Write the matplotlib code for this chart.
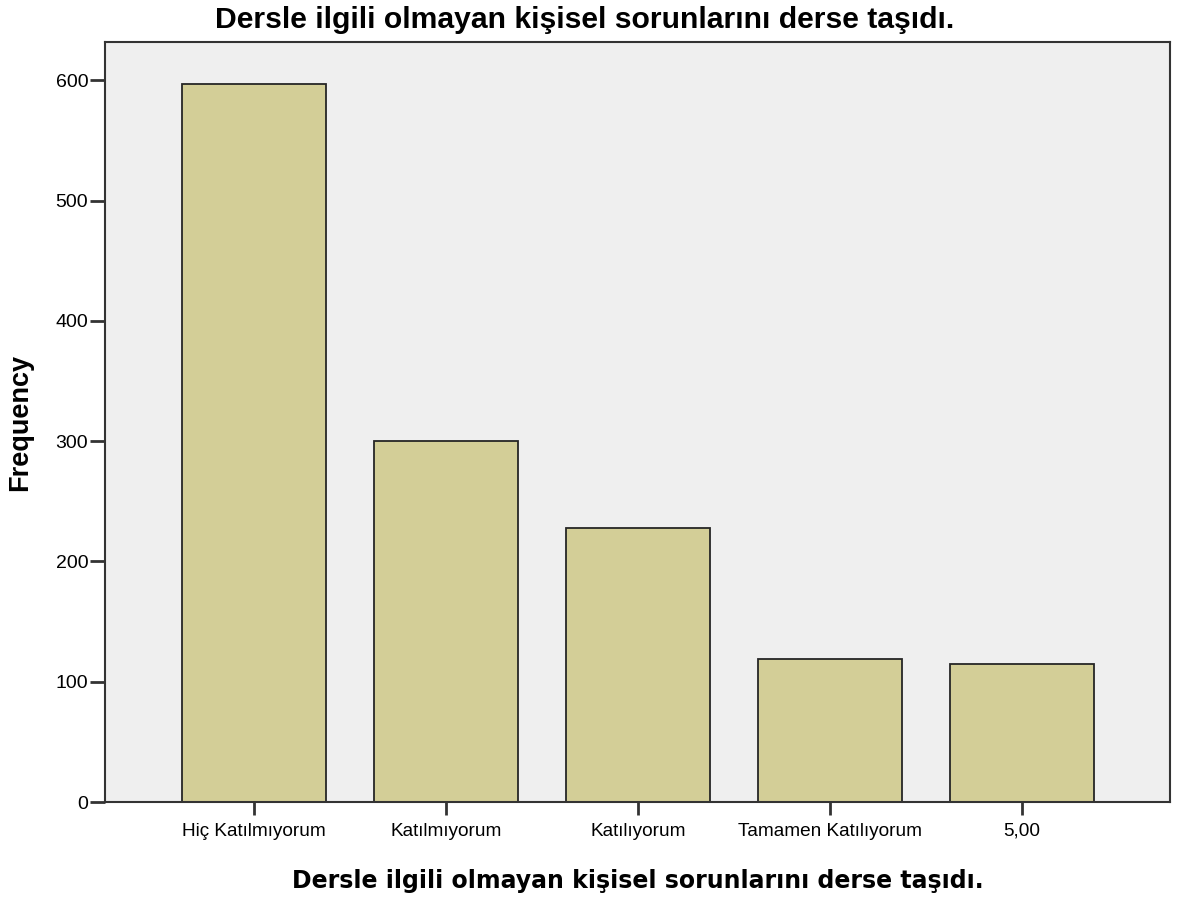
import matplotlib.pyplot as plt

categories = ["Hiç Katılmıyorum", "Katılmıyorum", "Katılıyorum", "Tamamen Katılıyorum", "5,00"]
frequency = [597, 300, 228, 119, 115]
yticks = [0, 100, 200, 300, 400, 500, 600]
title = "Dersle ilgili olmayan kişisel sorunlarını derse taşıdı."

plt.rcParams['font.family'] = ['Liberation Sans', 'DejaVu Sans']

fig = plt.figure(figsize=(11.81, 8.97), dpi=100)
ax = fig.add_axes([0.0889, 0.1059, 0.9018, 0.8473])
ax.set_facecolor("#efefef")

x = list(range(len(categories)))
ax.bar(x, frequency, width=0.75, color="#d3ce97", edgecolor="#262626", linewidth=1.3)

ax.set_xlim(-0.776, 4.77)
ax.set_ylim(0, 632)
ax.set_xticks(x)
ax.set_xticklabels(categories, fontsize=13.7)
ax.set_yticks(yticks)
ax.tick_params(axis="y", labelsize=14, length=11, width=2, color="#333333", pad=1)
ax.tick_params(axis="x", length=9, width=2, color="#333333", pad=6)
for s in ax.spines.values():
    s.set_color("#333333")
    s.set_linewidth(1.5)

# title sits centred on the whole figure, not the axes
ax.set_title(title, fontsize=21.7, fontweight="bold", pad=10, x=0.45)
ax.set_xlabel(title, fontsize=17, fontweight="bold", family="DejaVu Sans", labelpad=21)
ax.set_ylabel("Frequency", fontsize=19.5, fontweight="bold", labelpad=16)

fig.savefig("out.png", dpi=100)
